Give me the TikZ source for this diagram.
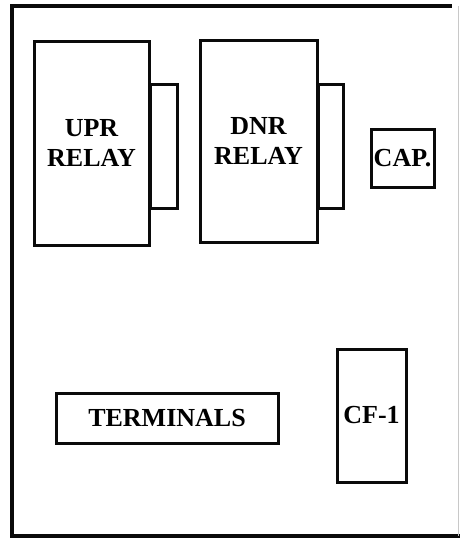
\documentclass[tikz,border=0pt]{standalone}
\usepackage{fontspec}
\setmainfont{Liberation Serif}
\usepackage{tikz}
\usetikzlibrary{positioning}
\definecolor{ink}{RGB}{10,10,10}
\definecolor{faint}{RGB}{200,200,200}

\begin{document}
\begin{tikzpicture}[x=1pt,y=-1pt,
  font=\fontsize{26}{30}\selectfont\bfseries,
  frame/.style={draw=ink,line width=4pt},
  bx/.style={draw=ink,line width=3pt,align=center,inner sep=0pt},
  tab/.style={draw=ink,line width=3pt,inner sep=0pt}]

\useasboundingbox (0,0) rectangle (460,539);

% enclosure
\draw[frame,line cap=rect] (450,6) -- (12,6) -- (12,536) -- (460,536);
\draw[faint,line width=1pt] (458,6) -- (458,536);

% relays with their side tabs
\node[bx,minimum width=115pt,minimum height=204pt] (upr) at (91.5,143) {UPR\\RELAY};
\node[tab,minimum width=27pt,minimum height=124pt,anchor=west] (uprtab) at (149,146) {};
\node[bx,minimum width=117pt,minimum height=202pt] (dnr) at (258.5,141) {DNR\\RELAY};
\node[tab,minimum width=25pt,minimum height=124pt,anchor=west] (dnrtab) at (317,146) {};

\node[bx,minimum width=63pt,minimum height=58pt] (cap) at (402.5,158) {CAP.};

% lower row
\node[bx,minimum width=222pt,minimum height=50pt] (term) at (167,418) {TERMINALS};
\node[bx,minimum width=69pt,minimum height=133pt] (cf) at (371.5,415.5) {CF-1};
\end{tikzpicture}
\end{document}
